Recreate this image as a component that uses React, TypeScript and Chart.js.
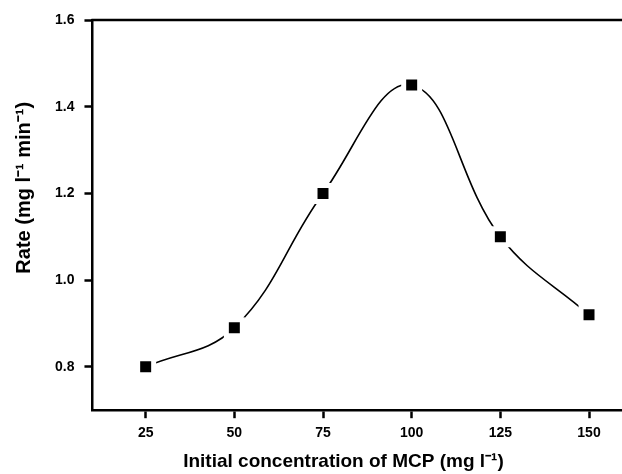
import React, { useEffect, useRef } from "react";
import { Chart, registerables } from "chart.js";

Chart.register(...registerables);

const concentrations = [25, 50, 75, 100, 125, 150];
const rates = [0.8, 0.89, 1.2, 1.45, 1.1, 0.92];
const xTicks = [25, 50, 75, 100, 125, 150];
const yTicks = [0.8, 1.0, 1.2, 1.4, 1.6];
const xTitle = "Initial concentration of MCP (mg l\u207B\u00B9)";
const yTitle = "Rate (mg l\u207B\u00B9 min\u207B\u00B9)";

const FONT = "'Liberation Sans', Arial, sans-serif";

const frame = {
  id: "frame",
  afterDraw(chart: any) {
    const { ctx, chartArea } = chart;
    ctx.save();
    ctx.strokeStyle = "#000";
    ctx.lineWidth = 2.5;
    ctx.beginPath();
    ctx.moveTo(chartArea.left - 1, chartArea.top);
    ctx.lineTo(chart.width, chartArea.top);
    ctx.stroke();

    ctx.fillStyle = "#000";
    ctx.textAlign = "center";
    ctx.textBaseline = "middle";
    ctx.font = `bold 19px ${FONT}`;
    const w = chartArea.right - chartArea.left;
    const h = chartArea.bottom - chartArea.top;
    ctx.fillText(xTitle, chartArea.left + 0.474 * w, chartArea.bottom + 52);

    ctx.font = `bold 20px ${FONT}`;
    ctx.translate(24, chartArea.top + 0.43 * h);
    ctx.rotate(-Math.PI / 2);
    ctx.fillText(yTitle, 0, 0);
    ctx.restore();
  },
};

export default function App() {
  const ref = useRef<HTMLCanvasElement>(null);
  useEffect(() => {
    document.body.style.margin = "0";
    const chart = new Chart(ref.current!, {
      type: "line",
      data: {
        datasets: [
          {
            data: concentrations.map((c, i) => ({ x: c, y: rates[i] })),
            borderColor: "#000",
            borderWidth: 1.6,
            tension: 0.4,
            pointStyle: "rect",
            pointRadius: 11.3,
            pointBackgroundColor: "#000",
            pointBorderColor: "#fff",
            pointBorderWidth: 5,
            fill: false,
          },
        ],
      },
      options: {
        animation: false,
        responsive: false,
        layout: { autoPadding: false, padding: { top: 20, right: 0, left: 45, bottom: 25 } },
        plugins: { legend: { display: false }, tooltip: { enabled: false } },
        scales: {
          x: {
            type: "linear",
            min: 10,
            max: 159.3,
            afterBuildTicks: (s: any) => {
              s.ticks = xTicks.map((v) => ({ value: v }));
            },
            ticks: { color: "#000", font: { family: FONT, size: 14, weight: "bold" }, padding: 7, maxRotation: 0 },
            grid: { drawOnChartArea: false, drawTicks: true, tickLength: 8, tickWidth: 2.5, tickColor: "#000" },
            border: { display: true, width: 2.5, color: "#000" },
          },
          y: {
            type: "linear",
            min: 0.7,
            max: 1.6,
            afterBuildTicks: (s: any) => {
              s.ticks = yTicks.map((v) => ({ value: v }));
            },
            ticks: {
              color: "#000",
              font: { family: FONT, size: 14, weight: "bold" },
              padding: 10,
              callback: (v: any) => Number(v).toFixed(1),
            },
            grid: { drawOnChartArea: false, drawTicks: true, tickLength: 8, tickWidth: 2.5, tickColor: "#000" },
            border: { display: true, width: 2.5, color: "#000" },
          },
        },
      },
      plugins: [frame],
    });
    return () => chart.destroy();
  }, []);
  return (
    <div style={{ position: "absolute", left: 0, top: 0, width: 622, height: 474, background: "#fff" }}>
      <canvas ref={ref} width={622} height={474} />
    </div>
  );
}
